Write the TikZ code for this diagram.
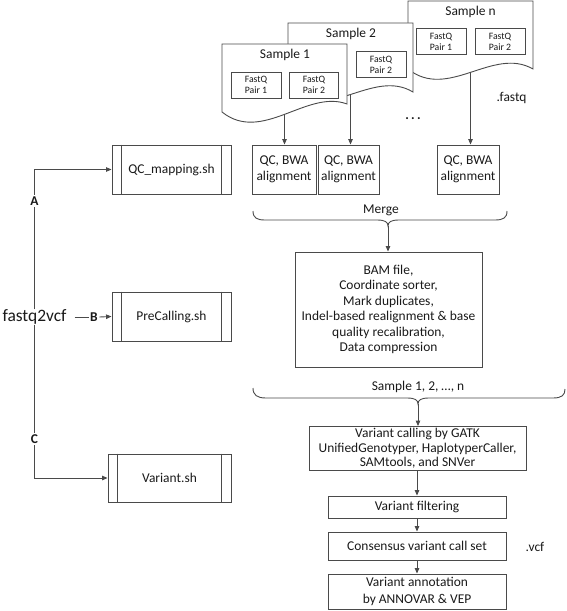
\documentclass[tikz,border=0pt]{standalone}
\usepackage{fontspec}
\setmainfont{Carlito}
\usetikzlibrary{arrows.meta}
\definecolor{lc}{HTML}{4A4A4A}
\definecolor{tc}{HTML}{1A1A1A}
\newcommand{\sampledoc}[4]{%
  \draw[docl] (#1,#2+68) -- (#1,#2) -- (#1+125,#2) -- (#1+125,#2+#3)
    .. controls (#1+85,#2+45) and (#1+40,#2+100) .. (#1,#2+68) coordinate[pos=0.5] (#4) -- cycle;}
\tikzset{
  line/.style={draw=lc, line width=0.9bp},
  docl/.style={line, fill=white},
  arr/.style={line, -{Triangle[length=5.5bp,width=4.5bp]}},
  txt/.style={text=tc, font=\fontsize{13.5}{15.5}\selectfont, inner sep=1bp, align=center},
  box/.style={txt, line, fill=white, inner sep=2bp},
  pair/.style={line, fill=white, text=tc, align=center, minimum width=50bp, minimum height=26bp, inner sep=1bp, font=\fontsize{9.8}{10.8}\selectfont},
  lbl/.style={txt, fill=white, font=\fontsize{13.5}{15.5}\selectfont\bfseries, inner sep=1.5bp}
}
\begin{document}
\begin{tikzpicture}[x=1bp,y=-1bp]
\useasboundingbox[fill=white] (0,0) rectangle (567,611);
% sample documents
\sampledoc{408}{1}{68}{sn}
\node[txt] (tn) at (470.5,12) {Sample n};
\node[pair] (pn1) at (441,41.5) {FastQ\\Pair 1};
\node[pair] (pn2) at (500,41.5) {FastQ\\Pair 2};
\sampledoc{288}{23}{69}{s2}
\node[txt] (t2) at (351,34) {Sample 2};
\node[pair] (p22) at (381,64.5) {FastQ\\Pair 2};
\sampledoc{222}{44}{60}{s1}
\node[txt] (t1) at (285,55) {Sample 1};
\node[pair] (p11) at (256,85) {FastQ\\Pair 1};
\node[pair, minimum width=49bp] (p12) at (314,85) {FastQ\\Pair 2};
\node[txt] (fq) at (511.5,98) {.fastq};
\node[txt] (dots) at (413,119) {\textbf{.\,.\,.}};
% QC boxes
\node[box, minimum width=64bp, minimum height=49bp] (qc1) at (284,169.5) {QC, BWA\\alignment};
\node[box, minimum width=61bp, minimum height=49bp] (qc2) at (348.5,169.5) {QC, BWA\\alignment};
\node[box, minimum width=62bp, minimum height=49bp] (qc3) at (468,169.5) {QC, BWA\\alignment};
\draw[arr] (s1) -- (s1 |- qc1.north);
\draw[arr] (s2) -- (s2 |- qc2.north);
\draw[arr] (sn) -- (sn |- qc3.north);
% merge brace
\draw[line] (253,211) .. controls (253,218) and (257,220) .. (265,220) -- (377,220)
  .. controls (385,220) and (388,222) .. (388,226) coordinate (mt)
  .. controls (388,222) and (391,220) .. (399,220) -- (495,220)
  .. controls (503,220) and (507,218) .. (507,211);
\node[txt] (mg) at (381,210) {Merge};
\node[box, minimum width=187bp, minimum height=115bp] (bam) at (388.5,309.5)
  {BAM file,\\Coordinate sorter,\\Mark duplicates,\\Indel-based realignment \& base\\quality recalibration,\\Data compression};
\draw[arr] (mt) -- (mt |- bam.north);
% sample brace
\draw[line] (253,388) .. controls (253,395) and (257,398) .. (266,398) -- (407,398)
  .. controls (415,398) and (418,400) .. (418,404) coordinate (st)
  .. controls (418,400) and (421,398) .. (429,398) -- (553,398)
  .. controls (562,398) and (565,395) .. (565,389);
\node[txt] (sl) at (418,387) {Sample 1, 2, …, n};
\node[box, minimum width=217bp, minimum height=41bp, font=\fontsize{13.5}{14.5}\selectfont] (vc) at (417.5,448.5)
  {Variant calling by GATK\\UnifiedGenotyper, HaplotyperCaller,\\SAMtools, and SNVer};
\draw[arr] (st) -- (st |- vc.north);
\node[box, minimum width=178bp, minimum height=22bp] (vf) at (417,507) {Variant filtering};
\node[box, minimum width=178bp, minimum height=28bp] (cs) at (417,546) {Consensus variant call set};
\node[box, minimum width=178bp, minimum height=35bp, font=\fontsize{13.5}{17}\selectfont] (va) at (417,591.5) {Variant annotation\\by ANNOVAR \& VEP};
\node[txt] (vcf) at (535,547) {.vcf};
\draw[arr] (vc.south -| vf.north) -- (vf.north);
\draw[arr] (vf) -- (cs);
\draw[arr] (cs) -- (va);
% left side
\node[box, minimum width=119bp, minimum height=49bp] (qcm) at (171.5,169.5) {QC\_mapping.sh};
\node[box, minimum width=119bp, minimum height=49bp] (pc) at (171.5,316.5) {PreCalling.sh};
\node[box, minimum width=123bp, minimum height=48bp] (vs) at (169.5,478) {Variant.sh};
\foreach \n in {qcm,pc,vs}{
  \draw[line] ([xshift=10bp]\n.north west) -- ([xshift=10bp]\n.south west);
  \draw[line] ([xshift=-10bp]\n.north east) -- ([xshift=-10bp]\n.south east);
}
\node[txt, fill=white, inner sep=0bp, font=\fontsize{17.5}{19}\selectfont] (f2v) at (34.5,317) {fastq2vcf};
\draw[arr] (f2v.north) |- (qcm.west);
\draw[arr] (f2v.south) |- (vs.west);
\node[lbl] (la) at (34.5,201) {A};
\node[lbl] (lc) at (34.5,439) {C};
\node[lbl] (lb) at (94,317) {B};
\draw[line] ([xshift=8bp]f2v.east) -- (lb.west);
\draw[arr] (lb.east) -- (pc.west);
\end{tikzpicture}
\end{document}
